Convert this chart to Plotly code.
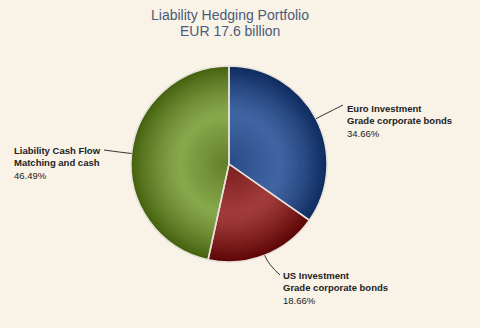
import math
import plotly.graph_objects as go

# Portfolio breakdown (share of EUR 17.6 billion, %)
names = ["Euro Investment<br>Grade corporate bonds",
         "US Investment<br>Grade corporate bonds",
         "Liability Cash Flow<br>Matching and cash"]
shares = [34.66, 18.66, 46.49]

# shading per slice: (centre, highlight, rim)
slice_shades = [
    ("#2a4c88", "#4065a2", "#0f2a5e"),
    ("#7a1e1e", "#a23c3c", "#5c0404"),
    ("#5f7e28", "#88a84c", "#45610e"),
]

title_line1 = "Liability Hedging Portfolio"
title_line2 = "EUR 17.6 billion"

W, H = 480, 328
BG = "#f8f2e7"

# pie placement in pixels
cx, cy, r = 229, 164, 98

# label anchors (pixels): where each connector ends, and text box origin
label_anchor = [(343, 105), (280, 275), (104, 150)]
label_box = [(345, 101), (281, 268), (12, 143)]


def px(x):
    return x / W


def py(y):
    return 1 - y / H


def hex_rgb(h):
    h = h.lstrip("#")
    return tuple(int(h[i:i + 2], 16) for i in (0, 2, 4))


def mix(a, b, t):
    a, b = hex_rgb(a), hex_rgb(b)
    return "rgb({},{},{})".format(*(round(a[i] + (b[i] - a[i]) * t) for i in range(3)))


def shade(centre, light, rim, t):
    # t = radial fraction (0 at pie centre, 1 at rim)
    if t <= 0.5:
        return mix(centre, light, t / 0.5)
    return mix(light, rim, ((t - 0.5) / 0.5) ** 1.3)


def dom(rad):
    return dict(x=[px(cx - rad), px(cx + rad)], y=[py(cy + rad), py(cy - rad)])


fig = go.Figure()

# radial shading: stacked discs from the rim inwards
n_rings = 30
for k in range(n_rings):
    t = 1 - k / n_rings
    rad = r * t
    cols = [shade(c, l, e, t - 0.5 / n_rings) for c, l, e in slice_shades]
    fig.add_trace(go.Pie(
        labels=names, values=shares, sort=False, direction="clockwise",
        rotation=0, textinfo="none", hoverinfo="skip" if k else "label+percent",
        marker=dict(colors=cols, line=dict(width=0)),
        domain=dom(rad), showlegend=False,
    ))

# slice outlines on top
fig.add_trace(go.Pie(
    labels=names, values=shares, sort=False, direction="clockwise",
    rotation=0, textinfo="none", hoverinfo="label+percent",
    marker=dict(colors=["rgba(0,0,0,0)"] * len(shares),
                line=dict(color="#e6e2da", width=1.5)),
    domain=dom(r), showlegend=False,
))

shapes = []
annotations = []
total = sum(shares)
start = 0.0
for name, val, anchor, box in zip(names, shares, label_anchor, label_box):
    mid = (start + val / 2) / total * 2 * math.pi
    start += val
    sx, sy = math.sin(mid), -math.cos(mid)
    ex, ey = cx + r * sx, cy + r * sy
    bx, by = cx + (r + 10) * sx, cy + (r + 10) * sy
    path = (f"M {px(ex)},{py(ey)} Q {px(bx)},{py(by)} {px(anchor[0])},{py(anchor[1])}")
    shapes.append(dict(type="path", xref="paper", yref="paper", path=path,
                       line=dict(color="#333333", width=1)))
    parts = name.split("<br>")
    text = "<br>".join(f"<b>{p}</b>" for p in parts) + f"<br>{val:.2f}%"
    annotations.append(dict(
        x=px(box[0]), y=py(box[1]), xref="paper", yref="paper",
        xanchor="left", yanchor="top", align="left", showarrow=False,
        text=text, font=dict(family="Liberation Sans, Arial", size=9.5, color="#222222"),
    ))

title_font = dict(family="Liberation Sans, Arial", size=14, color="#4b5b78")
annotations.append(dict(x=px(230), y=py(15), xref="paper", yref="paper",
                        xanchor="center", yanchor="middle", showarrow=False,
                        text=title_line1, font=title_font))
annotations.append(dict(x=px(230), y=py(31), xref="paper", yref="paper",
                        xanchor="center", yanchor="middle", showarrow=False,
                        text=title_line2, font=title_font))

fig.update_layout(
    width=W, height=H,
    margin=dict(l=0, r=0, t=0, b=0),
    paper_bgcolor=BG, plot_bgcolor=BG,
    shapes=shapes, annotations=annotations,
)

fig.write_html("out.html")
